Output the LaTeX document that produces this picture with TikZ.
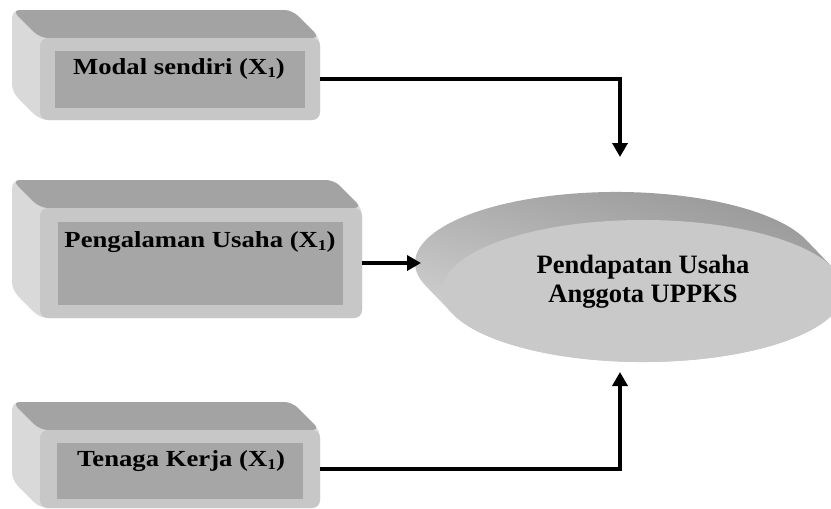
\documentclass[tikz,border=0pt]{standalone}
\usepackage{fontspec}
\setmainfont{Liberation Serif}
\usetikzlibrary{arrows.meta,shapes.geometric,shadings}
\newcommand\xbox[5]{%
  \fill[sideface, rounded corners=8pt] ({#1-28},{#4-28}) -- ({#1-28},{#2-28}) -- ({#3-28},{#2-28}) -- (#3,#2) -- (#3,#4) -- (#1,#4) -- cycle;
  \fill[topface, rounded corners=8pt] ({#1-28},{#2-28}) -- ({#3-28},{#2-28}) -- (#3,#2) -- (#1,#2) -- cycle;
  \node[frontface, minimum width={(#3-#1)*1pt}, minimum height={(#4-#2)*1pt}] (#5) at ({(#1+#3)/2},{(#2+#4)/2}) {};
}
\newcommand\xsub{{\fontsize{15}{15}\selectfont\raisebox{-3pt}{1}}}
\begin{document}
\begin{tikzpicture}[x=1pt,y=-1pt,
  topface/.style={fill=black!36},
  sideface/.style={fill=black!15},
  frontface/.style={rectangle, fill=black!22, rounded corners=8pt, inner sep=0pt, outer sep=0pt},
  innerface/.style={rectangle, fill=black!35, inner sep=0pt, outer sep=0pt},
  lbl/.style={font=\fontsize{23}{26}\selectfont\bfseries, anchor=base, inner sep=0pt},
  glbl/.style={font=\fontsize{26.5}{30}\selectfont\bfseries, anchor=base, inner sep=0pt},
  conn/.style={line width=3.5pt, -{Triangle[length=14pt,width=15pt]}},
]
\useasboundingbox (0,0) rectangle (831,509);

% boxes
\xbox{40}{38}{320}{120}{m1}
\node[innerface, minimum width=250pt, minimum height=57pt] (i1) at (180,79.5) {};
\node[lbl] (l1) at (179,74) {\scalebox{1.16}[1]{Modal sendiri (X\xsub)}};

\xbox{40}{208}{362}{318}{m2}
\node[innerface, minimum width=285pt, minimum height=83pt] (i2) at (200.5,263.5) {};
\node[lbl] (l2) at (200,247) {\scalebox{1.16}[1]{Pengalaman Usaha (X\xsub)}};

\xbox{40}{430}{320}{508}{m3}
\node[innerface, minimum width=246pt, minimum height=56pt] (i3) at (180,471) {};
\node[lbl] (l3) at (181,466) {\scalebox{1.16}[1]{Tenaga Kerja (X\xsub)}};

% ellipse
\shade[upper left=black!32, upper right=black!44, lower left=black!10, lower right=black!30]
  (806.3,240.1) arc[start angle=-18.8, end angle=-198.8, x radius=201, y radius=71]
  -- (452.7,313.9) arc[start angle=161.2, end angle=-18.8, x radius=201, y radius=71] -- cycle;
\node[ellipse, fill=black!21, minimum width=402pt, minimum height=142pt, inner sep=0pt] (goal) at (643,291) {};
\node[glbl] (g1) at (643,273) {Pendapatan Usaha};
\node[glbl] (g2) at (643,302) {Anggota UPPKS};

% connectors
\coordinate (t1) at (620,157);
\coordinate (t2) at (421,263);
\coordinate (t3) at (620,372);
\draw[conn] (m1.east) -| (t1);
\draw[conn] (m2.east) -- (t2);
\draw[conn] (m3.east) -| (t3);
\end{tikzpicture}
\end{document}
